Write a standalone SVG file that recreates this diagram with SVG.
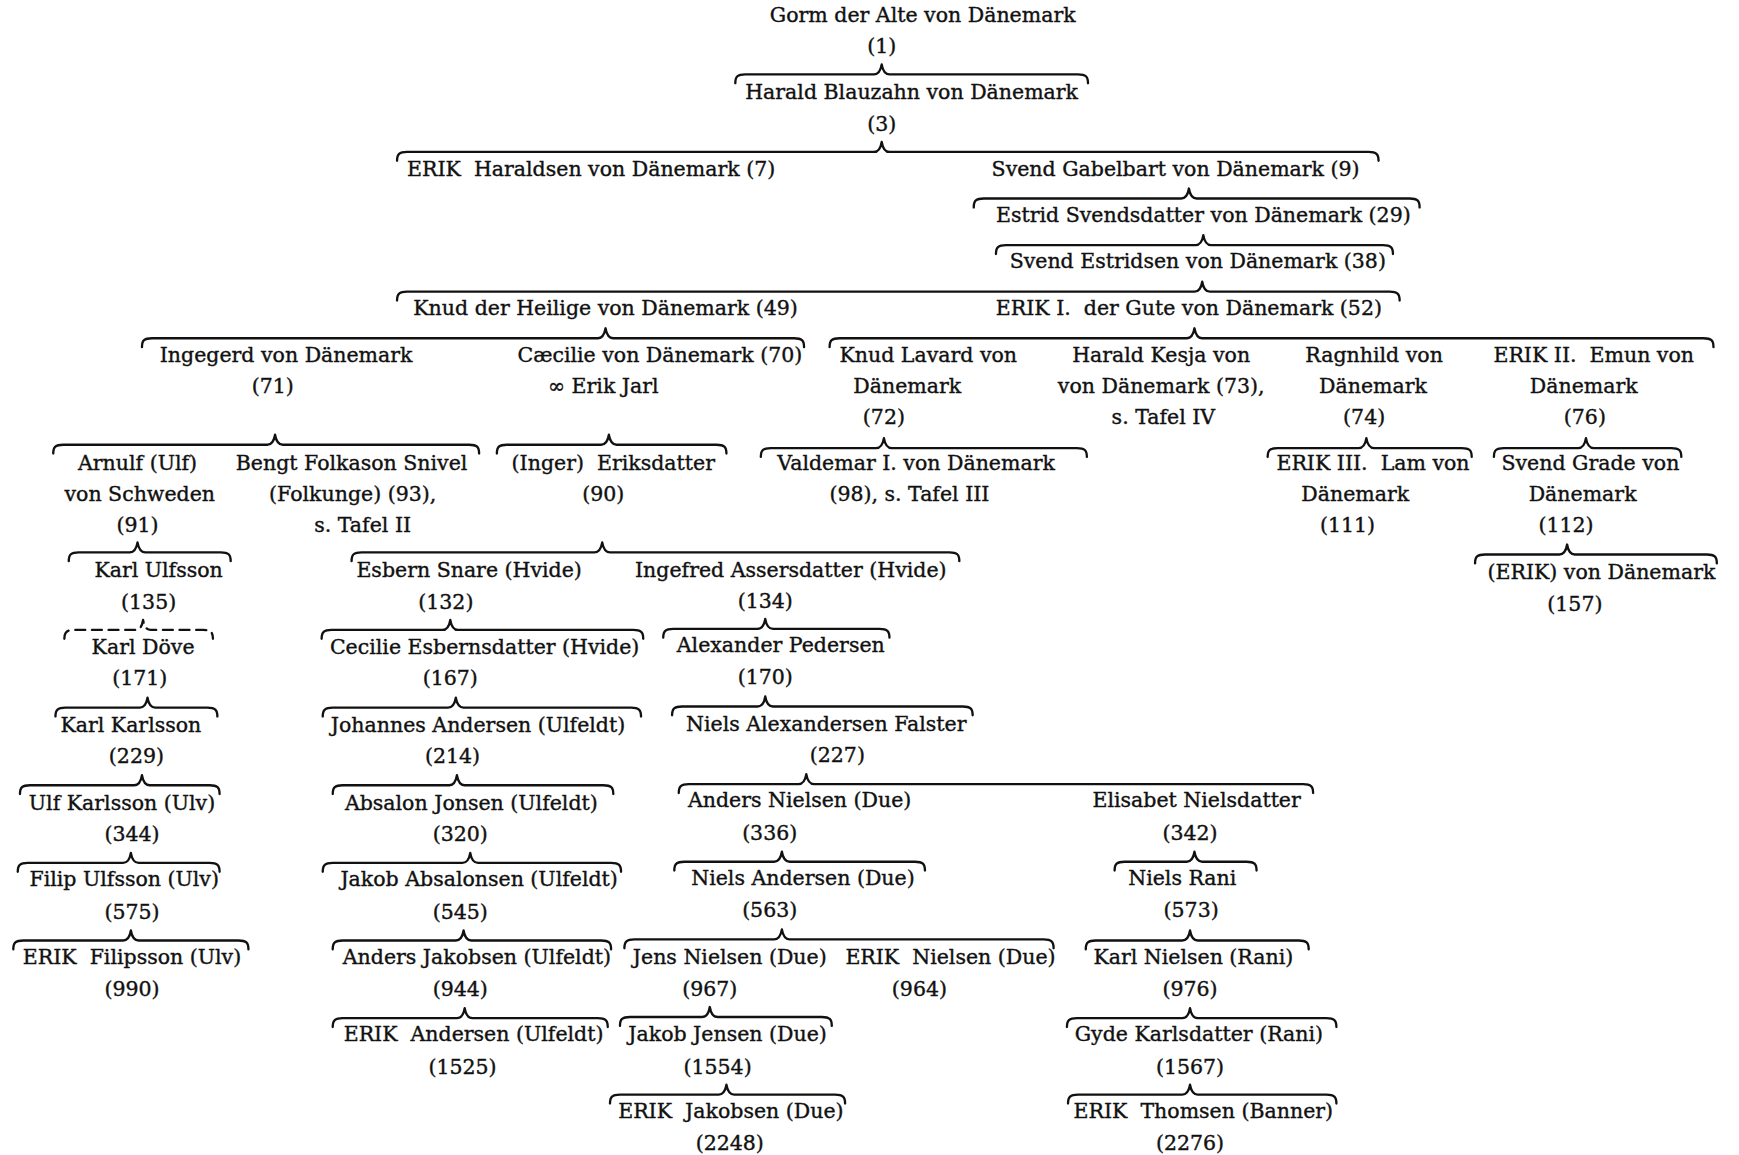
<svg xmlns="http://www.w3.org/2000/svg" width="1739" height="1155" viewBox="0 0 1739 1155">
<style>
text{font-family:"DejaVu Serif","Liberation Serif",serif;font-size:18.5px;text-anchor:middle;fill:#111;stroke:#111;stroke-width:0.35px;white-space:pre}
.b{fill:none;stroke:#111;stroke-width:2.1;stroke-linecap:round;stroke-linejoin:round}
.d{stroke-dasharray:9 6}
</style>
<rect width="1739" height="1155" fill="#fff"/>
<g transform="scale(1.10906)">
<g id="connectors">
<path class="b" d="M663,75 C663,69 665,67 672,67 H788 C792,67 794,64 795,58 C796,64 798,67 802,67 H972 C979,67 981,69 981,75"/>
<path class="b" d="M358,145 C358,139 360,137 367,137 H788 C792,137 794,134 795,128 C796,134 798,137 802,137 H1234 C1241,137 1243,139 1243,145"/>
<path class="b" d="M878,187 C878,181 880,179 887,179 H1065 C1069,179 1071,176 1072,170 C1073,176 1075,179 1079,179 H1271 C1278,179 1280,181 1280,187"/>
<path class="b" d="M898,229 C898,223 900,221 907,221 H1078 C1082,221 1084,218 1085,212 C1086,218 1088,221 1092,221 H1247 C1254,221 1256,223 1256,229"/>
<path class="b" d="M358,271 C358,265 360,263 367,263 H1077 C1081,263 1083,260 1084,254 C1085,260 1087,263 1091,263 H1253 C1260,263 1262,265 1262,271"/>
<path class="b" d="M128,313 C128,307 130,305 137,305 H539 C543,305 545,302 546,296 C547,302 549,305 553,305 H716 C723,305 725,307 725,313"/>
<path class="b" d="M748,313 C748,307 750,305 757,305 H1070 C1074,305 1076,302 1077,296 C1078,302 1080,305 1084,305 H1536 C1543,305 1545,307 1545,313"/>
<path class="b" d="M48,409 C48,403 50,401 57,401 H241 C245,401 247,398 248,392 C249,398 251,401 255,401 H423 C430,401 432,403 432,409"/>
<path class="b" d="M448,409 C448,403 450,401 457,401 H542 C546,401 548,398 549,392 C550,398 552,401 556,401 H646 C653,401 655,403 655,409"/>
<path class="b" d="M686,412 C686,406 688,404 695,404 H790 C794,404 796,401 797,395 C798,401 800,404 804,404 H971 C978,404 980,406 980,412"/>
<path class="b" d="M1143,412 C1143,406 1145,404 1152,404 H1225 C1229,404 1231,401 1232,395 C1233,401 1235,404 1239,404 H1318 C1325,404 1327,406 1327,412"/>
<path class="b" d="M1347,412 C1347,406 1349,404 1356,404 H1423 C1427,404 1429,401 1430,395 C1431,401 1433,404 1437,404 H1507 C1514,404 1516,406 1516,412"/>
<path class="b" d="M317,506 C317,500 319,498 326,498 H536 C540,498 542,495 543,489 C544,495 546,498 550,498 H856 C863,498 865,500 865,506"/>
<path class="b" d="M62,506 C62,500 64,498 71,498 H117 C121,498 123,495 124,489 C125,495 127,498 131,498 H199 C206,498 208,500 208,506"/>
<path class="b" d="M1330,508 C1330,502 1332,500 1339,500 H1406 C1410,500 1412,497 1413,491 C1414,497 1416,500 1420,500 H1539 C1546,500 1548,502 1548,508"/>
<path class="b d" d="M58,576 C58,570 60,568 67,568 H122 C126,568 128,565 129,559 C130,565 132,568 136,568 H183 C190,568 192,570 192,576"/>
<path class="b" d="M290,576 C290,570 292,568 299,568 H399 C403,568 405,565 406,559 C407,565 409,568 413,568 H571 C578,568 580,570 580,576"/>
<path class="b" d="M598,575 C598,569 600,567 607,567 H683 C687,567 689,564 690,558 C691,564 693,567 697,567 H793 C800,567 802,569 802,575"/>
<path class="b" d="M50,646 C50,640 52,638 59,638 H126 C130,638 132,635 133,629 C134,635 136,638 140,638 H187 C194,638 196,640 196,646"/>
<path class="b" d="M291,646 C291,640 293,638 300,638 H404 C408,638 410,635 411,629 C412,635 414,638 418,638 H569 C576,638 578,640 578,646"/>
<path class="b" d="M606,645 C606,639 608,637 615,637 H683 C687,637 689,634 690,628 C691,634 693,637 697,637 H868 C875,637 877,639 877,645"/>
<path class="b" d="M18,716 C18,710 20,708 27,708 H121 C125,708 127,705 128,699 C129,705 131,708 135,708 H189 C196,708 198,710 198,716"/>
<path class="b" d="M300,716 C300,710 302,708 309,708 H405 C409,708 411,705 412,699 C413,705 415,708 419,708 H544 C551,708 553,710 553,716"/>
<path class="b" d="M612,715 C612,709 614,707 621,707 H720 C724,707 726,704 727,698 C728,704 730,707 734,707 H1175 C1182,707 1184,709 1184,715"/>
<path class="b" d="M16,786 C16,780 18,778 25,778 H111 C115,778 117,775 118,769 C119,775 121,778 125,778 H189 C196,778 198,780 198,786"/>
<path class="b" d="M291,786 C291,780 293,778 300,778 H417 C421,778 423,775 424,769 C425,775 427,778 431,778 H551 C558,778 560,780 560,786"/>
<path class="b" d="M608,785 C608,779 610,777 617,777 H698 C702,777 704,774 705,768 C706,774 708,777 712,777 H825 C832,777 834,779 834,785"/>
<path class="b" d="M1005,785 C1005,779 1007,777 1014,777 H1070 C1074,777 1076,774 1077,768 C1078,774 1080,777 1084,777 H1124 C1131,777 1133,779 1133,785"/>
<path class="b" d="M12,856 C12,850 14,848 21,848 H111 C115,848 117,845 118,839 C119,845 121,848 125,848 H215 C222,848 224,850 224,856"/>
<path class="b" d="M300,856 C300,850 302,848 309,848 H411 C415,848 417,845 418,839 C419,845 421,848 425,848 H542 C549,848 551,850 551,856"/>
<path class="b" d="M563,855 C563,849 565,847 572,847 H698 C702,847 704,844 705,838 C706,844 708,847 712,847 H941 C948,847 950,849 950,855"/>
<path class="b" d="M979,856 C979,850 981,848 988,848 H1066 C1070,848 1072,845 1073,839 C1074,845 1076,848 1080,848 H1171 C1178,848 1180,850 1180,856"/>
<path class="b" d="M300,926 C300,920 302,918 309,918 H412 C416,918 418,915 419,909 C420,915 422,918 426,918 H539 C546,918 548,920 548,926"/>
<path class="b" d="M559,925 C559,919 561,917 568,917 H633 C637,917 639,914 640,908 C641,914 643,917 647,917 H741 C748,917 750,919 750,925"/>
<path class="b" d="M962,926 C962,920 964,918 971,918 H1066 C1070,918 1072,915 1073,909 C1074,915 1076,918 1080,918 H1196 C1203,918 1205,920 1205,926"/>
<path class="b" d="M550,995 C550,989 552,987 559,987 H648 C652,987 654,984 655,978 C656,984 658,987 662,987 H753 C760,987 762,989 762,995"/>
<path class="b" d="M963,995 C963,989 965,987 972,987 H1066 C1070,987 1072,984 1073,978 C1074,984 1076,987 1080,987 H1196 C1203,987 1205,989 1205,995"/>
</g>
<g id="n1"><text x="832" y="20">Gorm der Alte von Dänemark</text><text x="795" y="48">(1)</text></g>
<g id="n3"><text x="822" y="89">Harald Blauzahn von Dänemark</text><text x="795" y="118">(3)</text></g>
<g id="n7"><text x="533" y="159">ERIK  Haraldsen von Dänemark (7)</text></g>
<g id="n9"><text x="1060" y="159">Svend Gabelbart von Dänemark (9)</text></g>
<g id="n29"><text x="1085" y="200">Estrid Svendsdatter von Dänemark (29)</text></g>
<g id="n38"><text x="1080" y="242">Svend Estridsen von Dänemark (38)</text></g>
<g id="n49"><text x="546" y="284">Knud der Heilige von Dänemark (49)</text></g>
<g id="n52"><text x="1072" y="284">ERIK I.  der Gute von Dänemark (52)</text></g>
<g id="n71"><text x="258" y="326">Ingegerd von Dänemark</text><text x="246" y="354">(71)</text></g>
<g id="n70"><text x="595" y="326">Cæcilie von Dänemark (70)</text><text x="544" y="354">∞ Erik Jarl</text></g>
<g id="n72"><text x="837" y="326">Knud Lavard von</text><text x="818" y="354">Dänemark</text><text x="797" y="382">(72)</text></g>
<g id="n73"><text x="1047" y="326">Harald Kesja von</text><text x="1047" y="354">von Dänemark (73),</text><text x="1049" y="382">s. Tafel IV</text></g>
<g id="n74"><text x="1239" y="326">Ragnhild von</text><text x="1238" y="354">Dänemark</text><text x="1230" y="382">(74)</text></g>
<g id="n76"><text x="1437" y="326">ERIK II.  Emun von</text><text x="1428" y="354">Dänemark</text><text x="1429" y="382">(76)</text></g>
<g id="n91"><text x="124" y="424">Arnulf (Ulf)</text><text x="126" y="452">von Schweden</text><text x="124" y="480">(91)</text></g>
<g id="n93"><text x="317" y="424">Bengt Folkason Snivel</text><text x="318" y="452">(Folkunge) (93),</text><text x="327" y="480">s. Tafel II</text></g>
<g id="n90"><text x="553" y="424">(Inger)  Eriksdatter</text><text x="544" y="452">(90)</text></g>
<g id="n98"><text x="826" y="424">Valdemar I. von Dänemark</text><text x="820" y="452">(98), s. Tafel III</text></g>
<g id="n111"><text x="1238" y="424">ERIK III.  Lam von</text><text x="1222" y="452">Dänemark</text><text x="1215" y="480">(111)</text></g>
<g id="n112"><text x="1434" y="424">Svend Grade von</text><text x="1427" y="452">Dänemark</text><text x="1412" y="480">(112)</text></g>
<g id="n135"><text x="143" y="520">Karl Ulfsson</text><text x="134" y="549">(135)</text></g>
<g id="n132"><text x="423" y="520">Esbern Snare (Hvide)</text><text x="402" y="549">(132)</text></g>
<g id="n134"><text x="713" y="520">Ingefred Assersdatter (Hvide)</text><text x="690" y="548">(134)</text></g>
<g id="n157"><text x="1444" y="522">(ERIK) von Dänemark</text><text x="1420" y="551">(157)</text></g>
<g id="n171"><text x="129" y="590">Karl Döve</text><text x="126" y="618">(171)</text></g>
<g id="n167"><text x="437" y="590">Cecilie Esbernsdatter (Hvide)</text><text x="406" y="618">(167)</text></g>
<g id="n170"><text x="704" y="588">Alexander Pedersen</text><text x="690" y="617">(170)</text></g>
<g id="n229"><text x="118" y="660">Karl Karlsson</text><text x="123" y="688">(229)</text></g>
<g id="n214"><text x="431" y="660">Johannes Andersen (Ulfeldt)</text><text x="408" y="688">(214)</text></g>
<g id="n227"><text x="745" y="659">Niels Alexandersen Falster</text><text x="755" y="687">(227)</text></g>
<g id="n344"><text x="110" y="730">Ulf Karlsson (Ulv)</text><text x="119" y="758">(344)</text></g>
<g id="n320"><text x="425" y="730">Absalon Jonsen (Ulfeldt)</text><text x="415" y="758">(320)</text></g>
<g id="n336"><text x="721" y="728">Anders Nielsen (Due)</text><text x="694" y="757">(336)</text></g>
<g id="n342"><text x="1079" y="728">Elisabet Nielsdatter</text><text x="1073" y="757">(342)</text></g>
<g id="n575"><text x="112" y="799">Filip Ulfsson (Ulv)</text><text x="119" y="829">(575)</text></g>
<g id="n545"><text x="432" y="799">Jakob Absalonsen (Ulfeldt)</text><text x="415" y="829">(545)</text></g>
<g id="n563"><text x="724" y="798">Niels Andersen (Due)</text><text x="694" y="827">(563)</text></g>
<g id="n573"><text x="1066" y="798">Niels Rani</text><text x="1074" y="827">(573)</text></g>
<g id="n990"><text x="119" y="869">ERIK  Filipsson (Ulv)</text><text x="119" y="898">(990)</text></g>
<g id="n944"><text x="430" y="869">Anders Jakobsen (Ulfeldt)</text><text x="415" y="898">(944)</text></g>
<g id="n967"><text x="658" y="869">Jens Nielsen (Due)</text><text x="640" y="898">(967)</text></g>
<g id="n964"><text x="857" y="869">ERIK  Nielsen (Due)</text><text x="829" y="898">(964)</text></g>
<g id="n976"><text x="1076" y="869">Karl Nielsen (Rani)</text><text x="1073" y="898">(976)</text></g>
<g id="n1525"><text x="427" y="939">ERIK  Andersen (Ulfeldt)</text><text x="417" y="968">(1525)</text></g>
<g id="n1554"><text x="656" y="939">Jakob Jensen (Due)</text><text x="647" y="968">(1554)</text></g>
<g id="n1567"><text x="1081" y="939">Gyde Karlsdatter (Rani)</text><text x="1073" y="968">(1567)</text></g>
<g id="n2248"><text x="659" y="1008">ERIK  Jakobsen (Due)</text><text x="658" y="1037">(2248)</text></g>
<g id="n2276"><text x="1085" y="1008">ERIK  Thomsen (Banner)</text><text x="1073" y="1037">(2276)</text></g>
</g>
</svg>
